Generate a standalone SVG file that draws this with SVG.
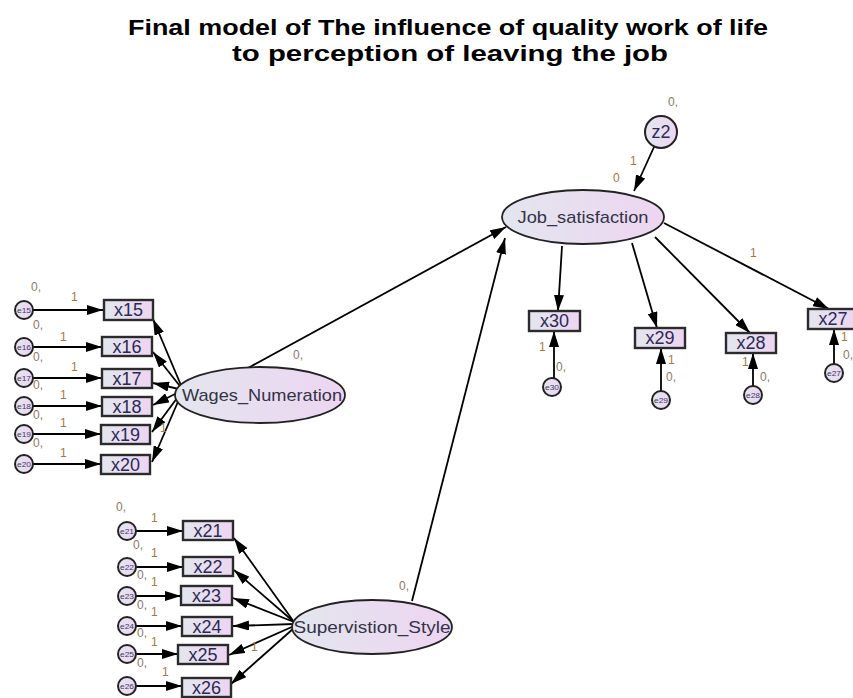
<svg xmlns="http://www.w3.org/2000/svg" width="853" height="698" viewBox="0 0 853 698">
<defs>
<linearGradient id="g" x1="0" y1="0" x2="1" y2="0">
<stop offset="0" stop-color="#e3e6ee"/>
<stop offset="1" stop-color="#edd5f1"/>
</linearGradient>
<marker id="ah" viewBox="0 0 16 10" refX="16" refY="5" markerWidth="16" markerHeight="10" orient="auto" markerUnits="userSpaceOnUse">
<path d="M0,0 L16,5 L0,10 z" fill="#000"/>
</marker>
</defs>
<style>
.box{fill:url(#g);stroke:#2b2b2b;stroke-width:2.4}
.lat{fill:url(#g);stroke:#222;stroke-width:1.8}
.err{fill:url(#g);stroke:#222;stroke-width:2}
.bt{font-family:"Liberation Sans",Arial,sans-serif;font-size:18px;fill:#2a2a55;text-anchor:middle}
.lt{font-family:"Liberation Sans",Arial,sans-serif;font-size:17px;fill:#333348;text-anchor:middle}
.et{font-family:"Liberation Sans",Arial,sans-serif;font-size:8px;fill:#3a3a66;text-anchor:middle}
.lab{font-family:"Liberation Sans",Arial,sans-serif;font-size:12px;fill:#a07a45}
.zero{font-family:"Liberation Sans",Arial,sans-serif;font-size:12px;fill:#8a7a6a}
.title{font-family:"Liberation Sans",Arial,sans-serif;font-size:22px;font-weight:bold;fill:#000;text-anchor:middle}
.c{stroke:#000;stroke-width:1.8;fill:none;marker-end:url(#ah)}
</style>
<rect width="853" height="698" fill="#fff"/>
<g id="title">
<text class="title" x="448" y="35" textLength="640" lengthAdjust="spacingAndGlyphs">Final model of The influence of quality work of life</text>
<text class="title" x="450" y="61" textLength="436" lengthAdjust="spacingAndGlyphs">to perception of leaving the job</text>
</g>
<g id="connectors">
<line class="c" x1="248" y1="368" x2="506" y2="227"/>
<line class="c" x1="412" y1="601" x2="505" y2="238"/>
<line class="c" x1="654" y1="147" x2="634" y2="191"/>
<line class="c" x1="562" y1="246" x2="558" y2="311"/>
<line class="c" x1="632" y1="243" x2="657" y2="328"/>
<line class="c" x1="655" y1="237" x2="750" y2="333"/>
<line class="c" x1="664" y1="223" x2="829" y2="309"/>
<line class="c" x1="554" y1="378" x2="554" y2="331"/>
<line class="c" x1="661" y1="391" x2="661" y2="348"/>
<line class="c" x1="753" y1="386" x2="753" y2="353"/>
<line class="c" x1="834" y1="364" x2="834" y2="329"/>
<line class="c" x1="183" y1="390" x2="153" y2="319"/>
<line class="c" x1="183" y1="390" x2="153" y2="352"/>
<line class="c" x1="183" y1="390" x2="153" y2="383"/>
<line class="c" x1="183" y1="390" x2="153" y2="405"/>
<line class="c" x1="183" y1="390" x2="152" y2="432"/>
<line class="c" x1="183" y1="390" x2="152" y2="462"/>
<line class="c" x1="33" y1="310" x2="103" y2="310"/>
<line class="c" x1="33" y1="347" x2="102" y2="347"/>
<line class="c" x1="33" y1="378" x2="102" y2="378"/>
<line class="c" x1="33" y1="406" x2="102" y2="406"/>
<line class="c" x1="33" y1="434" x2="101" y2="434"/>
<line class="c" x1="33" y1="464" x2="101" y2="464"/>
<line class="c" x1="294" y1="622" x2="234" y2="538"/>
<line class="c" x1="294" y1="622" x2="234" y2="570"/>
<line class="c" x1="294" y1="622" x2="233" y2="598"/>
<line class="c" x1="294" y1="624" x2="233" y2="626"/>
<line class="c" x1="294" y1="626" x2="229" y2="655"/>
<line class="c" x1="294" y1="628" x2="231" y2="684"/>
<line class="c" x1="136" y1="531" x2="183" y2="531"/>
<line class="c" x1="136" y1="567" x2="183" y2="567"/>
<line class="c" x1="136" y1="596" x2="181" y2="596"/>
<line class="c" x1="136" y1="626" x2="182" y2="626"/>
<line class="c" x1="136" y1="654" x2="178" y2="654"/>
<line class="c" x1="136" y1="686" x2="182" y2="686"/>
</g>
<g id="Job_satisfaction">
<ellipse class="lat" cx="583" cy="217" rx="81" ry="27"/>
<text class="lt" x="583" y="223" textLength="131" lengthAdjust="spacingAndGlyphs">Job_satisfaction</text>
</g>
<g id="z2">
<circle class="err" cx="661" cy="132" r="16"/>
<text class="bt" x="661" y="138" font-size="17">z2</text>
</g>
<g id="Wages_Numeration">
<ellipse class="lat" cx="260" cy="395" rx="85" ry="28"/>
<text class="lt" x="262" y="401" textLength="160" lengthAdjust="spacingAndGlyphs">Wages_Numeration</text>
</g>
<g id="Supervistion_Style">
<ellipse class="lat" cx="372" cy="627" rx="80" ry="27"/>
<text class="lt" x="372" y="633" textLength="157" lengthAdjust="spacingAndGlyphs">Supervistion_Style</text>
</g>
<g id="x15"><rect class="box" x="104" y="300" width="49" height="20"/><text class="bt" x="128.5" y="316">x15</text></g>
<g id="x16"><rect class="box" x="102" y="337" width="50" height="19"/><text class="bt" x="127" y="353">x16</text></g>
<g id="x17"><rect class="box" x="102" y="369" width="50" height="19"/><text class="bt" x="127" y="385">x17</text></g>
<g id="x18"><rect class="box" x="102" y="397" width="50" height="19"/><text class="bt" x="127" y="413">x18</text></g>
<g id="x19"><rect class="box" x="101" y="425" width="49" height="19"/><text class="bt" x="125.5" y="441">x19</text></g>
<g id="x20"><rect class="box" x="101" y="455" width="49" height="19"/><text class="bt" x="125.5" y="471">x20</text></g>
<g id="e15"><circle class="err" cx="24" cy="310" r="9"/><text class="et" x="24" y="313" textLength="14" lengthAdjust="spacingAndGlyphs">e15</text></g>
<g id="e16"><circle class="err" cx="24" cy="347" r="9"/><text class="et" x="24" y="350" textLength="14" lengthAdjust="spacingAndGlyphs">e16</text></g>
<g id="e17"><circle class="err" cx="24" cy="378" r="9"/><text class="et" x="24" y="381" textLength="14" lengthAdjust="spacingAndGlyphs">e17</text></g>
<g id="e18"><circle class="err" cx="24" cy="406" r="9"/><text class="et" x="24" y="409" textLength="14" lengthAdjust="spacingAndGlyphs">e18</text></g>
<g id="e19"><circle class="err" cx="24" cy="434" r="9"/><text class="et" x="24" y="437" textLength="14" lengthAdjust="spacingAndGlyphs">e19</text></g>
<g id="e20"><circle class="err" cx="24" cy="464" r="9"/><text class="et" x="24" y="467" textLength="14" lengthAdjust="spacingAndGlyphs">e20</text></g>
<g id="x21"><rect class="box" x="183" y="521" width="50" height="19"/><text class="bt" x="208" y="537">x21</text></g>
<g id="x22"><rect class="box" x="183" y="557" width="50" height="19"/><text class="bt" x="208" y="573">x22</text></g>
<g id="x23"><rect class="box" x="181" y="586" width="51" height="19"/><text class="bt" x="206.5" y="602">x23</text></g>
<g id="x24"><rect class="box" x="182" y="617" width="50" height="19"/><text class="bt" x="207" y="633">x24</text></g>
<g id="x25"><rect class="box" x="178" y="645" width="50" height="19"/><text class="bt" x="203" y="661">x25</text></g>
<g id="x26"><rect class="box" x="182" y="678" width="49" height="19"/><text class="bt" x="206.5" y="694">x26</text></g>
<g id="e21"><circle class="err" cx="127" cy="531" r="9"/><text class="et" x="127" y="534" textLength="14" lengthAdjust="spacingAndGlyphs">e21</text></g>
<g id="e22"><circle class="err" cx="127" cy="567" r="9"/><text class="et" x="127" y="570" textLength="14" lengthAdjust="spacingAndGlyphs">e22</text></g>
<g id="e23"><circle class="err" cx="127" cy="596" r="9"/><text class="et" x="127" y="599" textLength="14" lengthAdjust="spacingAndGlyphs">e23</text></g>
<g id="e24"><circle class="err" cx="127" cy="626" r="9"/><text class="et" x="127" y="629" textLength="14" lengthAdjust="spacingAndGlyphs">e24</text></g>
<g id="e25"><circle class="err" cx="127" cy="654" r="9"/><text class="et" x="127" y="657" textLength="14" lengthAdjust="spacingAndGlyphs">e25</text></g>
<g id="e26"><circle class="err" cx="127" cy="686" r="9"/><text class="et" x="127" y="689" textLength="14" lengthAdjust="spacingAndGlyphs">e26</text></g>
<g id="x30"><rect class="box" x="529" y="311" width="51" height="20"/><text class="bt" x="554.5" y="327">x30</text></g>
<g id="x29"><rect class="box" x="635" y="328" width="50" height="20"/><text class="bt" x="660" y="344">x29</text></g>
<g id="x28"><rect class="box" x="726" y="333" width="50" height="20"/><text class="bt" x="751" y="349">x28</text></g>
<g id="x27"><rect class="box" x="808" y="309" width="50" height="20"/><text class="bt" x="833" y="325">x27</text></g>
<g id="e30"><circle class="err" cx="552" cy="387" r="9"/><text class="et" x="552" y="390" textLength="14" lengthAdjust="spacingAndGlyphs">e30</text></g>
<g id="e29"><circle class="err" cx="661" cy="400" r="9"/><text class="et" x="661" y="403" textLength="14" lengthAdjust="spacingAndGlyphs">e29</text></g>
<g id="e28"><circle class="err" cx="753" cy="395" r="9"/><text class="et" x="753" y="398" textLength="14" lengthAdjust="spacingAndGlyphs">e28</text></g>
<g id="e27"><circle class="err" cx="834" cy="373" r="9"/><text class="et" x="834" y="376" textLength="14" lengthAdjust="spacingAndGlyphs">e27</text></g>
<g id="labels">
<text class="zero" x="668" y="106">0,</text>
<text class="lab" x="630" y="165">1</text>
<text class="lab" x="613" y="182">0</text>
<text class="zero" x="293" y="359">0,</text>
<text class="zero" x="399" y="590">0,</text>
<text class="lab" x="750" y="257">1</text>
<text class="lab" x="539" y="351">1</text>
<text class="zero" x="556" y="371">0,</text>
<text class="lab" x="668" y="364">1</text>
<text class="zero" x="666" y="381">0,</text>
<text class="lab" x="742" y="366">1</text>
<text class="zero" x="760" y="381">0,</text>
<text class="lab" x="841" y="341">1</text>
<text class="zero" x="843" y="359">0,</text>
<text class="zero" x="31" y="291">0,</text>
<text class="lab" x="71" y="301">1</text>
<text class="zero" x="33" y="329">0,</text>
<text class="lab" x="60" y="341">1</text>
<text class="zero" x="33" y="361">0,</text>
<text class="lab" x="71" y="371">1</text>
<text class="zero" x="33" y="389">0,</text>
<text class="lab" x="60" y="399">1</text>
<text class="zero" x="33" y="419">0,</text>
<text class="lab" x="60" y="427">1</text>
<text class="zero" x="33" y="447">0,</text>
<text class="lab" x="60" y="457">1</text>
<text class="lab" x="160" y="432">1</text>
<text class="zero" x="116" y="511">0,</text>
<text class="lab" x="151" y="522">1</text>
<text class="zero" x="133" y="549">0,</text>
<text class="lab" x="151" y="557">1</text>
<text class="zero" x="137" y="579">0,</text>
<text class="lab" x="151" y="586">1</text>
<text class="zero" x="137" y="609">0,</text>
<text class="lab" x="151" y="616">1</text>
<text class="zero" x="137" y="637">0,</text>
<text class="lab" x="151" y="646">1</text>
<text class="zero" x="137" y="667">0,</text>
<text class="lab" x="162" y="676">1</text>
<text class="lab" x="251" y="651">1</text>
</g>
</svg>
